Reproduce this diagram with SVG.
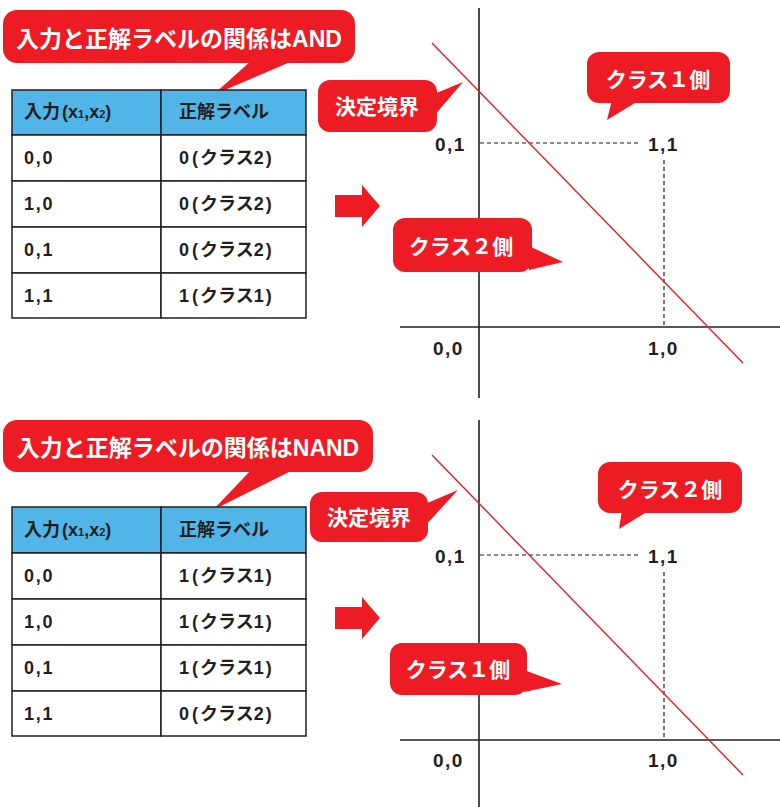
<svg xmlns="http://www.w3.org/2000/svg" width="780" height="807" viewBox="0 0 780 807">
<style>
.red{fill:#ed1c24}
.bt{fill:#fff;font-family:"Liberation Sans","Noto Sans CJK JP",sans-serif;font-weight:bold;text-anchor:middle}
.tt{fill:#231f20;font-family:"Liberation Sans","Noto Sans CJK JP",sans-serif;font-weight:bold;font-size:18px}
.num{letter-spacing:1.8px}
.hd{fill:#52b5e8;stroke:#231f20;stroke-width:1.5}
.cell{fill:#fff;stroke:#231f20;stroke-width:1.5}
.ax{stroke:#231f20;stroke-width:1.6;fill:none}
.dash{stroke:#231f20;stroke-width:1.2;stroke-dasharray:4 3;fill:none}
.bd{stroke:#ed1c24;stroke-width:1.4;fill:none}
.lb{fill:#231f20;font-family:"Liberation Sans",sans-serif;font-weight:bold;font-size:19px;letter-spacing:1.5px}
</style>
<rect width="780" height="807" fill="#fff"/>

<!-- ===== TOP PANEL ===== -->
<g id="title-and">
<rect class="red" x="3" y="10" width="352" height="53" rx="14"/>
<polygon class="red" points="252,60 295,60 213,95"/>
<text class="bt" x="179" y="47" font-size="23">入力と正解ラベルの関係はAND</text>
</g>
<g id="table-and">
<rect class="hd" x="12" y="90" width="149" height="45"/>
<rect class="hd" x="161" y="90" width="145" height="45"/>
<rect class="cell" x="12" y="135" width="149" height="46"/>
<rect class="cell" x="161" y="135" width="145" height="46"/>
<rect class="cell" x="12" y="181" width="149" height="46"/>
<rect class="cell" x="161" y="181" width="145" height="46"/>
<rect class="cell" x="12" y="227" width="149" height="46"/>
<rect class="cell" x="161" y="227" width="145" height="46"/>
<rect class="cell" x="12" y="273" width="149" height="45"/>
<rect class="cell" x="161" y="273" width="145" height="45"/>
<text class="tt" x="24" y="118" font-size="17">入力<tspan dx="2">(</tspan>x<tspan font-size="11">1</tspan>,x<tspan font-size="11">2</tspan>)</text>
<text class="tt" x="179" y="118" font-size="17">正解ラベル</text>
<text class="tt num" x="24" y="164">0,0</text><text class="tt" x="179" y="164">0<tspan dx="3">(</tspan><tspan dx="2">クラス</tspan>2<tspan dx="2">)</tspan></text>
<text class="tt num" x="24" y="210">1,0</text><text class="tt" x="179" y="210">0<tspan dx="3">(</tspan><tspan dx="2">クラス</tspan>2<tspan dx="2">)</tspan></text>
<text class="tt num" x="24" y="256">0,1</text><text class="tt" x="179" y="256">0<tspan dx="3">(</tspan><tspan dx="2">クラス</tspan>2<tspan dx="2">)</tspan></text>
<text class="tt num" x="24" y="302">1,1</text><text class="tt" x="179" y="302">1<tspan dx="3">(</tspan><tspan dx="2">クラス</tspan>1<tspan dx="2">)</tspan></text>
</g>
<g id="arrow-and">
<polygon class="red" points="335,195 362,195 362,185 380,206 362,227 362,217 335,217"/>
</g>
<g id="graph-and">
<line class="ax" x1="479" y1="8" x2="479" y2="398"/>
<line class="ax" x1="400" y1="327" x2="780" y2="327"/>
<line class="dash" x1="480" y1="143" x2="640" y2="143"/>
<line class="dash" x1="664" y1="160" x2="664" y2="326"/>
<line class="bd" x1="432" y1="43" x2="743" y2="363"/>
<text class="lb" x="435" y="151">0,1</text>
<text class="lb" x="648" y="151">1,1</text>
<text class="lb" x="433" y="355">0,0</text>
<text class="lb" x="648" y="355">1,0</text>
</g>
<g id="callout-boundary-and">
<rect class="red" x="318" y="80" width="119" height="52" rx="12"/>
<polygon class="red" points="434,94 434,116 463,82"/>
<text class="bt" x="377" y="114" font-size="21">決定境界</text>
</g>
<g id="callout-class2-and">
<rect class="red" x="393" y="218" width="139" height="54" rx="12"/>
<polygon class="red" points="529,246 529,270 563,262"/>
<text class="bt" x="461" y="254" font-size="21">クラス２側</text>
</g>
<g id="callout-class1-and">
<rect class="red" x="587" y="52" width="143" height="51" rx="12"/>
<polygon class="red" points="612,100 640,100 607,120"/>
<text class="bt" x="658" y="87" font-size="21">クラス１側</text>
</g>

<!-- ===== BOTTOM PANEL ===== -->
<g id="title-nand">
<rect class="red" x="3" y="420" width="370" height="52" rx="14"/>
<polygon class="red" points="252,469 295,469 213,510"/>
<text class="bt" x="188" y="456" font-size="23">入力と正解ラベルの関係はNAND</text>
</g>
<g id="table-nand">
<rect class="hd" x="12" y="507" width="149" height="46"/>
<rect class="hd" x="161" y="507" width="145" height="46"/>
<rect class="cell" x="12" y="553" width="149" height="46"/>
<rect class="cell" x="161" y="553" width="145" height="46"/>
<rect class="cell" x="12" y="599" width="149" height="46"/>
<rect class="cell" x="161" y="599" width="145" height="46"/>
<rect class="cell" x="12" y="645" width="149" height="46"/>
<rect class="cell" x="161" y="645" width="145" height="46"/>
<rect class="cell" x="12" y="691" width="149" height="45"/>
<rect class="cell" x="161" y="691" width="145" height="45"/>
<text class="tt" x="24" y="536" font-size="17">入力<tspan dx="2">(</tspan>x<tspan font-size="11">1</tspan>,x<tspan font-size="11">2</tspan>)</text>
<text class="tt" x="179" y="536" font-size="17">正解ラベル</text>
<text class="tt num" x="24" y="582">0,0</text><text class="tt" x="179" y="582">1<tspan dx="3">(</tspan><tspan dx="2">クラス</tspan>1<tspan dx="2">)</tspan></text>
<text class="tt num" x="24" y="628">1,0</text><text class="tt" x="179" y="628">1<tspan dx="3">(</tspan><tspan dx="2">クラス</tspan>1<tspan dx="2">)</tspan></text>
<text class="tt num" x="24" y="674">0,1</text><text class="tt" x="179" y="674">1<tspan dx="3">(</tspan><tspan dx="2">クラス</tspan>1<tspan dx="2">)</tspan></text>
<text class="tt num" x="24" y="720">1,1</text><text class="tt" x="179" y="720">0<tspan dx="3">(</tspan><tspan dx="2">クラス</tspan>2<tspan dx="2">)</tspan></text>
</g>
<g id="arrow-nand">
<polygon class="red" points="335,607 362,607 362,597 380,618 362,639 362,629 335,629"/>
</g>
<g id="graph-nand">
<line class="ax" x1="479" y1="420" x2="479" y2="807"/>
<line class="ax" x1="400" y1="740" x2="780" y2="740"/>
<line class="dash" x1="480" y1="555" x2="640" y2="555"/>
<line class="dash" x1="664" y1="572" x2="664" y2="739"/>
<line class="bd" x1="432" y1="455" x2="743" y2="775"/>
<text class="lb" x="435" y="563">0,1</text>
<text class="lb" x="648" y="563">1,1</text>
<text class="lb" x="433" y="767">0,0</text>
<text class="lb" x="648" y="767">1,0</text>
</g>
<g id="callout-boundary-nand">
<rect class="red" x="310" y="492" width="118" height="50" rx="12"/>
<polygon class="red" points="425,504 425,526 458,490"/>
<text class="bt" x="369" y="525" font-size="21">決定境界</text>
</g>
<g id="callout-class2-nand">
<rect class="red" x="598" y="462" width="144" height="51" rx="12"/>
<polygon class="red" points="622,510 650,510 619,529"/>
<text class="bt" x="670" y="497" font-size="21">クラス２側</text>
</g>
<g id="callout-class1-nand">
<rect class="red" x="390" y="643" width="137" height="52" rx="12"/>
<polygon class="red" points="524,670 524,692 562,684"/>
<text class="bt" x="458" y="677" font-size="21">クラス１側</text>
</g>
</svg>
